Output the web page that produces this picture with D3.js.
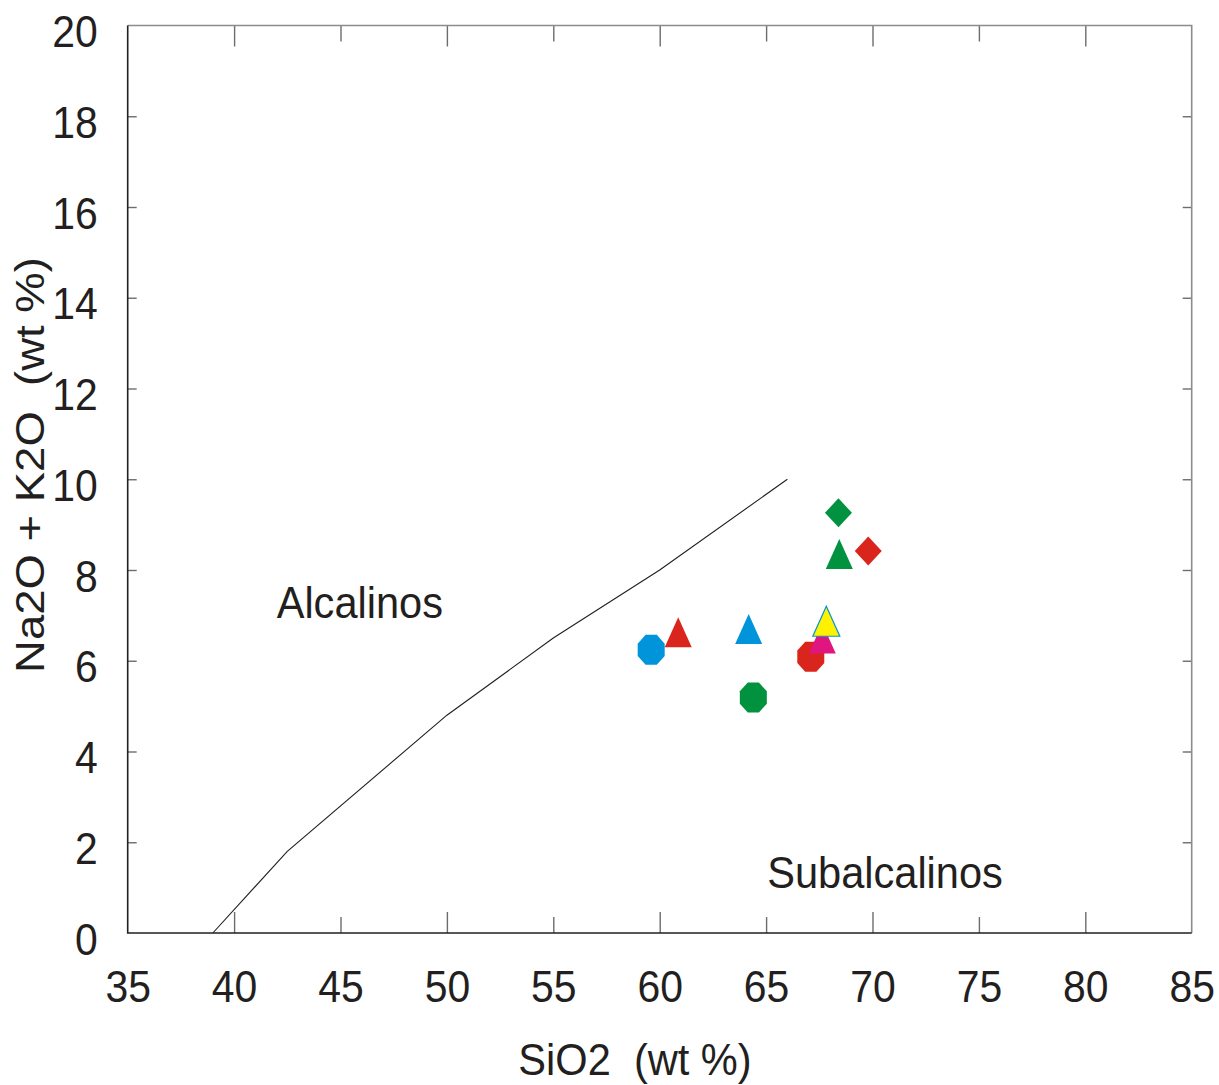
<!DOCTYPE html>
<html>
<head>
<meta charset="utf-8">
<script src="https://cdn.jsdelivr.net/npm/d3@7"></script>
<style>
  body { margin: 0; background: #fff; }
  svg text { font-family: "Liberation Sans", Arial, sans-serif; fill: #231f20; }
</style>
</head>
<body>
<svg id="viz"></svg>
<script>
// ---------------------------
// Data
// ---------------------------

const sio2    = [59.6, 60.87, 64.18, 64.4, 67.1, 67.64, 67.83, 68.44, 68.4, 69.8];
const alkalis = [6.24, 6.63, 6.70, 5.19, 6.09, 6.49, 6.87, 8.35, 9.26, 8.42];
const shapes  = ["octagon", "triangle", "triangle", "octagon", "octagon", "triangle", "triangle", "triangle", "diamond", "diamond"];
const colors  = ["#0095da", "#da251d", "#0095da", "#00923f", "#da251d", "#e0157f", "#fff200", "#00923f", "#00923f", "#da251d"];

// Irvine & Baragar alkaline / subalkaline divide
const boundarySiO2 = [39, 42.5, 50, 55, 60, 66];
const boundaryAlk  = [0, 1.8, 4.8, 6.5, 8, 10];

const xTicks = [35, 40, 45, 50, 55, 60, 65, 70, 75, 80, 85];
const yTicks = [0, 2, 4, 6, 8, 10, 12, 14, 16, 18, 20];

const fieldLabels = ["Alcalinos", "Subalcalinos"];
const fieldX = [42, 65.05];
const fieldY = [6.95, 1.0];

// ---------------------------
// Create SVG
// ---------------------------

const width = 1219;
const height = 1085;
const plotL = 127.7, plotR = 1191.7, plotT = 25.5, plotB = 933;
const sx = 0.93; // glyphs are a bit narrower than tall in the original
const sxText = 0.945;

const svg = d3.select("#viz")
    .attr("width", width)
    .attr("height", height);

const x = d3.scaleLinear().domain([35, 85]).range([plotL, plotR]);
const y = d3.scaleLinear().domain([0, 20]).range([plotB, plotT]);

// ---------------------------
// Axes
// ---------------------------

const xAxis = svg.append("g")
    .attr("transform", `translate(0,${plotB})`)
    .call(d3.axisBottom(x).tickValues(xTicks).tickSizeInner(-16).tickSizeOuter(0).tickPadding(38));

const xTop = svg.append("g")
    .attr("transform", `translate(0,${plotT})`)
    .call(d3.axisTop(x).tickValues(xTicks).tickSizeInner(-16).tickSizeOuter(0).tickFormat(""));

const yAxis = svg.append("g")
    .attr("transform", `translate(${plotL},0)`)
    .call(d3.axisLeft(y).tickValues(yTicks).tickSizeInner(-9).tickSizeOuter(0).tickPadding(30));

const yRight = svg.append("g")
    .attr("transform", `translate(${plotR},0)`)
    .call(d3.axisRight(y).tickValues(yTicks).tickSizeInner(-9).tickSizeOuter(0).tickFormat(""));

[xAxis, xTop].forEach(g => {
    g.selectAll(".tick line")
        .attr("y2", d => (d % 10 === 0 ? 21 : 16) * (g === xAxis ? -1 : 1));
});

[xAxis, xTop, yAxis, yRight].forEach(g => {
    g.select(".domain").remove();
    g.selectAll(".tick line").attr("stroke", "#6d6d6d").attr("stroke-width", 1.4);
    g.selectAll(".tick").filter(d => d === 35 || d === 85 || d === 0 || d === 20).select("line").remove();
});

xAxis.selectAll(".tick text")
    .attr("font-size", 44)
    .attr("font-family", "Liberation Sans, Arial, sans-serif")
    .attr("transform", `scale(${sx},1)`);

yAxis.selectAll(".tick text")
    .attr("font-size", 44)
    .attr("font-family", "Liberation Sans, Arial, sans-serif")
    .attr("x", -30 / sx)
    .attr("y", 7)
    .attr("transform", `scale(${sx},1)`);

// frame
svg.append("path")
    .attr("d", `M${plotL},${plotT}H${plotR}V${plotB}`)
    .attr("fill", "none").attr("stroke", "#8c8c8c").attr("stroke-width", 1.6);
svg.append("path")
    .attr("d", `M${plotL},${plotT}V${plotB}H${plotR}`)
    .attr("fill", "none").attr("stroke", "#231f20").attr("stroke-width", 1.6);

// ---------------------------
// Boundary line and fields
// ---------------------------

const line = d3.line()
    .x(i => x(boundarySiO2[i]))
    .y(i => y(boundaryAlk[i]));

svg.append("path")
    .attr("d", line(d3.range(boundarySiO2.length)))
    .attr("fill", "none")
    .attr("stroke", "#231f20")
    .attr("stroke-width", 1.1);

svg.selectAll(".field")
    .data(fieldLabels)
    .join("text")
    .attr("class", "field")
    .attr("transform", (d, i) => `translate(${x(fieldX[i])},${y(fieldY[i])}) scale(${sxText},1)`)
    .attr("font-size", 44)
    .text(d => d);

// ---------------------------
// Samples
// ---------------------------

function markerPath(shape){
    const w = 13.5, h = 15;
    switch(shape){
        case "octagon": {
            const a = 0.414;
            return `M${-w*a},${-h}L${w*a},${-h}L${w},${-h*a}L${w},${h*a}L${w*a},${h}L${-w*a},${h}L${-w},${h*a}L${-w},${-h*a}Z`;
        }
        case "triangle":
            return `M0,${-h}L${w},${h}L${-w},${h}Z`;
        case "diamond":
            return `M0,${-14.5}L${w},0L0,${14.5}L${-w},0Z`;
    }
}

svg.selectAll(".sample")
    .data(d3.range(sio2.length))
    .join("path")
    .attr("class", "sample")
    .attr("transform", i => `translate(${x(sio2[i])},${y(alkalis[i])})`)
    .attr("d", i => markerPath(shapes[i]))
    .attr("fill", i => colors[i])
    .attr("stroke", i => colors[i] === "#fff200" ? "#0095da" : "none")
    .attr("stroke-width", 1.2);

// ---------------------------
// Axis titles
// ---------------------------

svg.append("text")
    .attr("transform", `translate(635,1075) scale(${sxText},1)`)
    .attr("text-anchor", "middle")
    .attr("font-size", 44)
    .style("white-space", "pre")
    .text("SiO2  (wt %)");

svg.append("text")
    .attr("transform", "translate(43.5,465) scale(0.88,1) rotate(-90)")
    .attr("text-anchor", "middle")
    .attr("font-size", 45.5)
    .style("white-space", "pre")
    .text("Na2O + K2O  (wt %)");
</script>
</body>
</html>
